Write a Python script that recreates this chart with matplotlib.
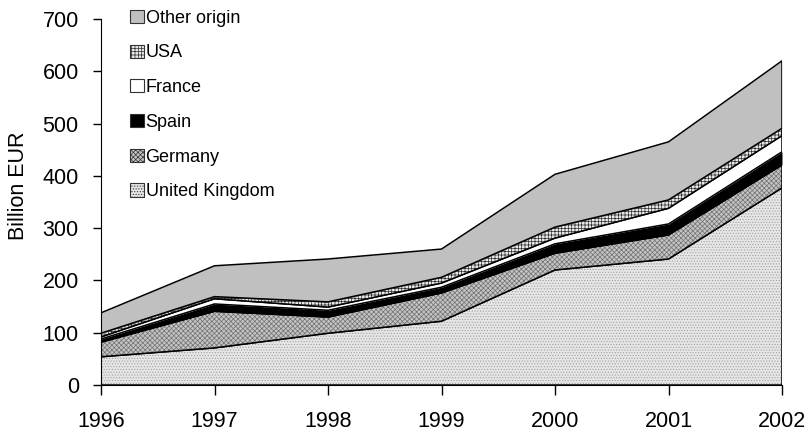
import matplotlib
matplotlib.use("Agg")
import matplotlib.pyplot as plt
from matplotlib.patches import Patch
import numpy as np

plt.rcParams['font.family'] = ['Liberation Sans', 'DejaVu Sans']
plt.rcParams['hatch.linewidth'] = 0.5

years = [1996, 1997, 1998, 1999, 2000, 2001, 2002]
uk = [54, 71, 99, 122, 220, 241, 377]
germany = [28, 70, 31, 54, 32, 46, 44]
spain = [6, 14, 13, 11, 18, 21, 25]
france = [4, 10, 6, 8, 11, 30, 31]
usa = [7, 4, 10, 11, 21, 16, 14]
other = [39, 59, 82, 54, 101, 111, 129]

labels = ["United Kingdom", "Germany", "Spain", "France", "USA", "Other origin"]
series = [uk, germany, spain, france, usa, other]
faces = ["#e6e6e6", "#c4c4c4", "#000000", "#ffffff", "#e8e8e8", "#c0c0c0"]
hatches = ["......", "xxxxxxx", None, None, "+++++", None]
hatch_cols = ["#a0a0a0", "#707070", "#000000", "#ffffff", "#303030", "#c0c0c0"]

fig = plt.figure(figsize=(8.11, 4.36), dpi=100)
ax = fig.add_axes([101/811, 1-385/436, (782-101)/811, (385-19)/436])

base = np.zeros(len(years))
handles = []
for lab, s, fc, h, hc in zip(labels, series, faces, hatches, hatch_cols):
    top = base + np.array(s)
    ax.fill_between(years, base, top, facecolor=fc, edgecolor=hc,
                    linewidth=0, hatch=h)
    ax.fill_between(years, base, top, facecolor='none', edgecolor='black',
                    linewidth=1.1)
    handles.append(Patch(facecolor=fc, edgecolor='#333333', hatch=h,
                         linewidth=0.8))
    base = top

ax.set_xlim(1996, 2002)
ax.set_ylim(0, 700)
ax.set_yticks(range(0, 701, 100))
ax.set_xticks(years)
ax.tick_params(axis='both', labelsize=15.5, direction='out', width=1)
ax.tick_params(axis='y', length=6, pad=10)
ax.tick_params(axis='x', length=7, pad=12)
ax.spines['top'].set_visible(False)
ax.spines['right'].set_visible(False)
ax.set_ylabel("Billion EUR", fontsize=15.5)
ax.yaxis.set_label_coords(-72/681, (385-186)/366)

leg = ax.legend(handles[::-1], labels[::-1], loc='upper left',
                bbox_to_anchor=(22/681, 1.045), frameon=False, fontsize=13,
                handlelength=0.75, handleheight=0.75, labelspacing=0.98,
                handletextpad=0.1, borderaxespad=0.0)

fig.savefig("out.png", dpi=100)
